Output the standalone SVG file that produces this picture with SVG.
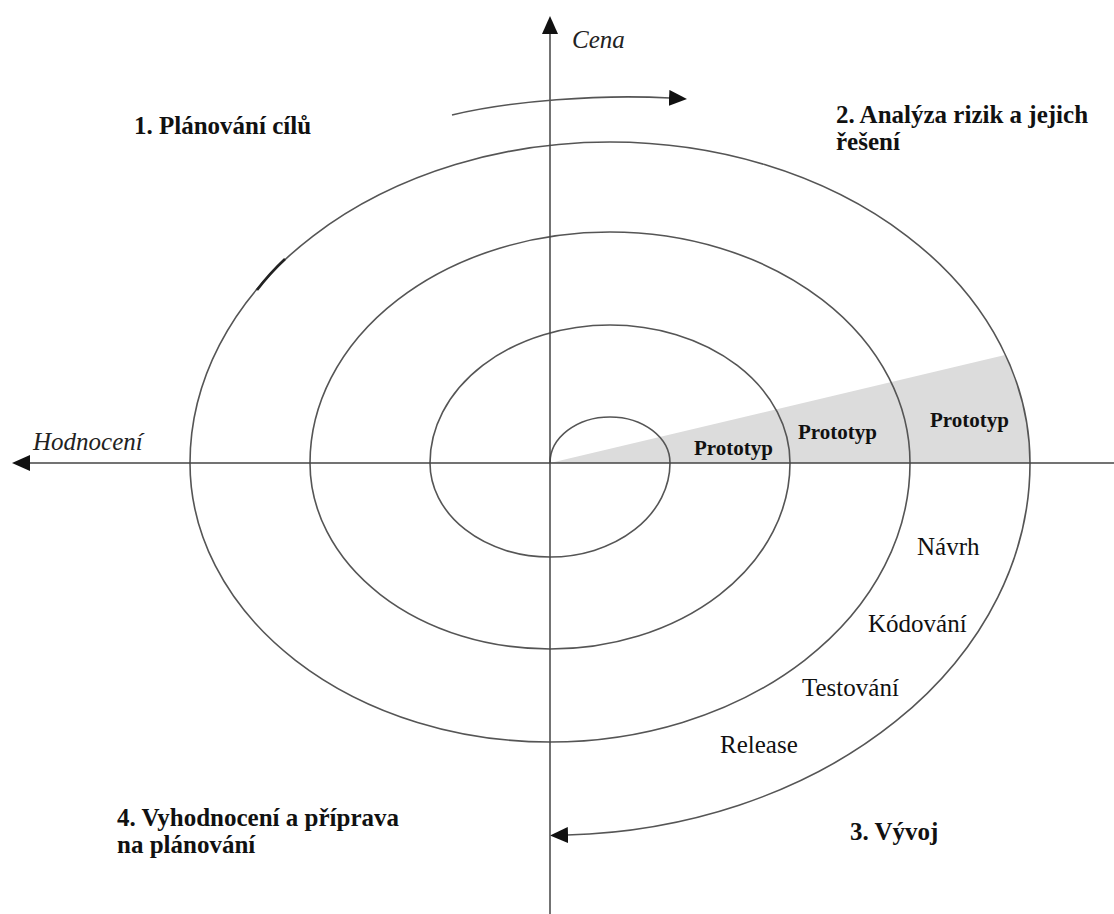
<svg xmlns="http://www.w3.org/2000/svg" width="1114" height="914" viewBox="0 0 1114 914">
  <defs>
    <marker id="ah" markerUnits="userSpaceOnUse" markerWidth="18" markerHeight="16" refX="1" refY="8" orient="auto">
      <path d="M0,0 L18,8 L0,16 Z" fill="#111"/>
    </marker>
    <style>
      .line { fill: none; stroke: #555; stroke-width: 1.6; }
      .axis { fill: none; stroke: #444; stroke-width: 1.5; }
      .head { font-family: "Liberation Serif", "Times New Roman", serif; font-weight: bold; font-size: 25px; fill: #111; }
      .proto { font-family: "Liberation Serif", "Times New Roman", serif; font-weight: bold; font-size: 21px; fill: #111; }
      .lbl { font-family: "Liberation Serif", "Times New Roman", serif; font-size: 25px; fill: #111; }
      .ital { font-family: "Liberation Serif", "Times New Roman", serif; font-style: italic; font-size: 25px; fill: #222; }
    </style>
  </defs>
  <rect width="1114" height="914" fill="#ffffff"/>

  <g id="prototype-wedge">
    <path d="M550,463 L1005,355 A420,321 0 0,1 1030,463 Z" fill="#dcdcdc"/>
  </g>

  <g id="connectors">
    <path id="spiral" class="line" marker-end="url(#ah)" d="M550,463 A60,46 0 0,1 670,463 A120,94 0 0,1 430,463 A180,138 0 0,1 790,463 A240,186 0 0,1 310,463 A300,231 0 0,1 910,463 A360,279 0 0,1 190,463 A420,321 0 0,1 1030,463 A480,372 0 0,1 567,835"/>
    <path id="spiral-mark" d="M257,290 Q270,273 285,259" fill="none" stroke="#222" stroke-width="2.6"/>
    <line id="axis-cena" class="axis" x1="550" y1="914" x2="550" y2="33" marker-end="url(#ah)"/>
    <line id="axis-hodnoceni" class="axis" x1="1114" y1="463" x2="29" y2="463" marker-end="url(#ah)"/>
    <path id="direction-arrow" class="line" marker-end="url(#ah)" d="M452,115 C510,101 600,94 670,98"/>
  </g>

  <g id="label-cena"><text class="ital" x="572" y="48">Cena</text></g>
  <g id="label-hodnoceni"><text class="ital" x="33" y="450">Hodnocení</text></g>

  <g id="q1"><text class="head" x="134" y="134">1. Plánování cílů</text></g>
  <g id="q2">
    <text class="head" x="836" y="123">2. Analýza rizik a jejich</text>
    <text class="head" x="836" y="150">řešení</text>
  </g>
  <g id="q3"><text class="head" x="850" y="840">3. Vývoj</text></g>
  <g id="q4">
    <text class="head" x="117" y="826">4. Vyhodnocení a příprava</text>
    <text class="head" x="117" y="853">na plánování</text>
  </g>

  <g id="prototyp-1"><text class="proto" x="694" y="455">Prototyp</text></g>
  <g id="prototyp-2"><text class="proto" x="798" y="439">Prototyp</text></g>
  <g id="prototyp-3"><text class="proto" x="930" y="427">Prototyp</text></g>

  <g id="navrh"><text class="lbl" x="917" y="555">Návrh</text></g>
  <g id="kodovani"><text class="lbl" x="868" y="632">Kódování</text></g>
  <g id="testovani"><text class="lbl" x="802" y="696">Testování</text></g>
  <g id="release"><text class="lbl" x="720" y="753">Release</text></g>
</svg>
